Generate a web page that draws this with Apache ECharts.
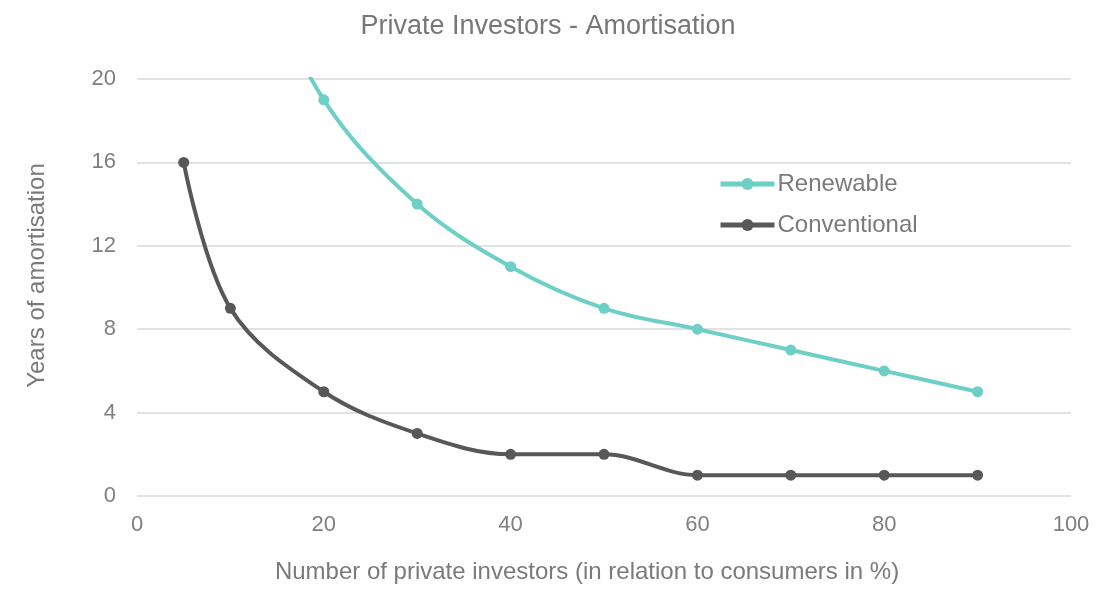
<!DOCTYPE html>
<html><head><meta charset="utf-8">
<script src="https://cdn.jsdelivr.net/npm/echarts@6/dist/echarts.min.js"></script>
<style>html,body{margin:0;padding:0;background:#fff}#c{width:1096px;height:589px}</style>
</head><body><div id="c"></div>
<script>
const renewableX = [10, 20, 30, 40, 50, 60, 70, 80, 90];
const renewableY = [28, 19, 14, 11, 9, 8, 7, 6, 5];
const conventionalX = [5, 10, 20, 30, 40, 50, 60, 70, 80, 90];
const conventionalY = [16, 9, 5, 3, 2, 2, 1, 1, 1, 1];
const xTicks = [0, 20, 40, 60, 80, 100];
const yTicks = [0, 4, 8, 12, 16, 20];

const font = 'Liberation Sans, Arial, sans-serif';
const chart = echarts.init(document.getElementById('c'));
chart.setOption({
  animation: false,
  title: {text: 'Private Investors - Amortisation', left: 'center', top: 8,
    textStyle: {fontFamily: font, fontSize: 27, fontWeight: 'normal', color: '#777777'}},
  grid: {left: 137, right: 25, top: 79, bottom: 89},
  legend: {orient: 'vertical', left: 718, top: 172, padding: 0, itemGap: 17, itemWidth: 54, itemHeight: 15,
    lineStyle: {width: 5},
    textStyle: {fontFamily: font, fontSize: 24, color: '#7a7a7a', padding: [0, 0, 0, -2]},
    data: ['Renewable', 'Conventional']},
  xAxis: {type: 'value', min: xTicks[0], max: xTicks[xTicks.length-1], interval: 20,
    name: 'Number of private investors (in relation to consumers in %)', nameLocation: 'middle', nameGap: 64,
    nameTextStyle: {fontFamily: font, fontSize: 24, color: '#7a7a7a', padding: [0, 34, 0, 0]},
    axisLine: {show: false}, axisTick: {show: false}, splitLine: {show: false},
    axisLabel: {fontFamily: font, fontSize: 22, color: '#7f7f7f', margin: 18}},
  yAxis: {type: 'value', min: yTicks[0], max: yTicks[yTicks.length-1], interval: 4,
    name: 'Years of amortisation', nameLocation: 'middle', nameGap: 88,
    nameTextStyle: {fontFamily: font, fontSize: 24, color: '#7a7a7a', padding: [0, 0, 0, 24]},
    axisLine: {show: false}, axisTick: {show: false},
    splitLine: {lineStyle: {color: '#d9d9d9', width: 1.5}},
    axisLabel: {fontFamily: font, fontSize: 22, color: '#7f7f7f', margin: 21}},
  series: [
    {name: 'Renewable', type: 'line', smooth: 0.35, clip: true,
      data: renewableX.map((x, i) => [x, renewableY[i]]),
      symbol: 'circle', symbolSize: 11,
      lineStyle: {color: '#6dcfc6', width: 4}, itemStyle: {color: '#6dcfc6'}},
    {name: 'Conventional', type: 'line', smooth: 0.35, clip: true,
      data: conventionalX.map((x, i) => [x, conventionalY[i]]),
      symbol: 'circle', symbolSize: 11,
      lineStyle: {color: '#585858', width: 4}, itemStyle: {color: '#585858'}}
  ]
});
</script></body></html>
